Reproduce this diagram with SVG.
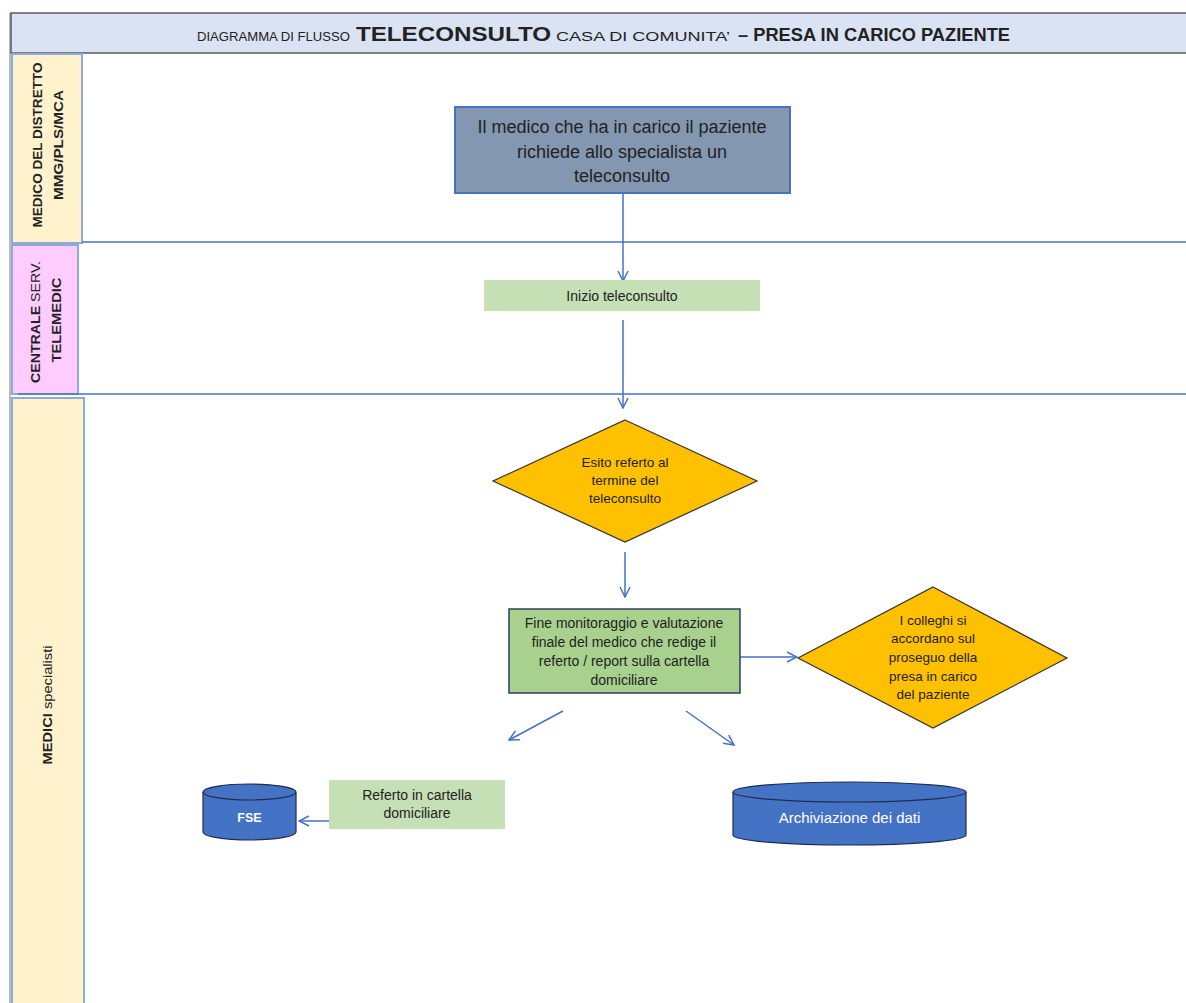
<svg xmlns="http://www.w3.org/2000/svg" width="1186" height="1003" viewBox="0 0 1186 1003">
<style>
.t{font-family:"Liberation Sans",Arial,sans-serif;fill:#222}
.lane{stroke:#8eaadb;stroke-width:2}
.sep{stroke:#4472c4;stroke-width:1.5}
.con{stroke:#4472c4;stroke-width:1.5;fill:none;marker-end:url(#ah)}
.dia{fill:#ffc000;stroke:#333;stroke-width:1.2}
.cyl{fill:#4472c4;stroke:#1f2d4d;stroke-width:1.2}
.w{font-family:"Liberation Sans",Arial,sans-serif;fill:#fff}
</style>
<defs>
<marker id="ah" viewBox="0 0 12 12" refX="11" refY="6" markerWidth="12" markerHeight="12" markerUnits="userSpaceOnUse" orient="auto">
<path d="M1,1 L11,6 L1,11" fill="none" stroke="#4472c4" stroke-width="1.5"/>
</marker>
</defs>
<rect width="1186" height="1003" fill="#fff"/>
<line x1="10" y1="13" x2="10" y2="1003" stroke="#a6a6a6" stroke-width="1.5"/>
<g id="title">
<rect x="11" y="13" width="1180" height="40" fill="#dae3f3" stroke="#595959" stroke-width="1.5"/>
<text class="t" x="197" y="41" font-size="13.5" textLength="153" lengthAdjust="spacingAndGlyphs">DIAGRAMMA DI FLUSSO</text>
<text class="t" x="356" y="41" font-size="20" font-weight="bold" textLength="195" lengthAdjust="spacingAndGlyphs">TELECONSULTO</text>
<text class="t" x="556" y="41" font-size="13.5" textLength="174" lengthAdjust="spacingAndGlyphs">CASA DI COMUNITA’</text>
<text class="t" x="738" y="41" font-size="19" font-weight="bold" textLength="272" lengthAdjust="spacingAndGlyphs">– PRESA IN CARICO PAZIENTE</text>
</g>
<g id="lane1">
<rect x="12" y="54" width="70" height="189" fill="#fff2cc" class="lane"/>
<text class="t" font-size="13" font-weight="bold" text-anchor="middle" textLength="165" lengthAdjust="spacingAndGlyphs" transform="translate(42,145) rotate(-90)">MEDICO DEL DISTRETTO</text>
<text class="t" font-size="13" font-weight="bold" text-anchor="middle" textLength="110" lengthAdjust="spacingAndGlyphs" transform="translate(63,145) rotate(-90)">MMG/PLS/MCA</text>
<line x1="82" y1="242" x2="1186" y2="242" class="sep"/>
</g>
<g id="lane2">
<rect x="12" y="245" width="66" height="149" fill="#ffccff" class="lane"/>
<text class="t" font-size="13" font-weight="bold" text-anchor="middle" textLength="122" lengthAdjust="spacingAndGlyphs" transform="translate(40,322) rotate(-90)">CENTRALE <tspan font-weight="normal">SERV.</tspan></text>
<text class="t" font-size="13" font-weight="bold" text-anchor="middle" textLength="85" lengthAdjust="spacingAndGlyphs" transform="translate(61,320) rotate(-90)">TELEMEDIC</text>
<line x1="18" y1="394" x2="1186" y2="394" class="sep"/>
</g>
<g id="lane3">
<rect x="12" y="398" width="72" height="610" fill="#fff2cc" class="lane"/>
<text class="t" font-size="13" text-anchor="middle" textLength="119" lengthAdjust="spacingAndGlyphs" transform="translate(52,705) rotate(-90)"><tspan font-weight="bold">MEDICI</tspan> specialisti</text>
</g>
<g id="connectors">
<line x1="623" y1="193" x2="623" y2="281" class="con"/>
<line x1="623" y1="320" x2="623" y2="408" class="con"/>
<line x1="625" y1="552" x2="625" y2="597" class="con"/>
<line x1="740" y1="657" x2="797" y2="657" class="con"/>
<line x1="563" y1="711" x2="509" y2="740" class="con"/>
<line x1="686" y1="711" x2="734" y2="745" class="con"/>
<line x1="329" y1="821" x2="299" y2="821" class="con"/>
</g>
<g id="n1">
<rect x="455" y="107" width="335" height="86" fill="#8497b0" stroke="#4472c4" stroke-width="2"/>
<text class="t" font-size="18" text-anchor="middle"><tspan x="622" y="133">Il medico che ha in carico il paziente</tspan><tspan x="622" y="158">richiede allo specialista un</tspan><tspan x="622" y="182">teleconsulto</tspan></text>
</g>
<g id="n2">
<rect x="484" y="280" width="276" height="31" fill="#c5e0b4"/>
<text class="t" x="622" y="301" font-size="14" text-anchor="middle">Inizio teleconsulto</text>
</g>
<g id="n3">
<polygon points="625,420 757,481 625,542 493,481" class="dia"/>
<text class="t" font-size="13.5" text-anchor="middle"><tspan x="625" y="467">Esito referto al</tspan><tspan x="625" y="485">termine del</tspan><tspan x="625" y="503">teleconsulto</tspan></text>
</g>
<g id="n4">
<rect x="509" y="609" width="231" height="84" fill="#a9d18e" stroke="#2f3f5f" stroke-width="1.5"/>
<text class="t" font-size="14" text-anchor="middle"><tspan x="624" y="628">Fine monitoraggio e valutazione</tspan><tspan x="624" y="647">finale del medico che redige il</tspan><tspan x="624" y="666">referto / report sulla cartella</tspan><tspan x="624" y="685">domiciliare</tspan></text>
</g>
<g id="n5">
<polygon points="933,587 1067,658 933,728 798,658" class="dia"/>
<text class="t" font-size="13.5" text-anchor="middle"><tspan x="933" y="625">I colleghi si</tspan><tspan x="933" y="643">accordano sul</tspan><tspan x="933" y="662">proseguo della</tspan><tspan x="933" y="681">presa in carico</tspan><tspan x="933" y="699">del paziente</tspan></text>
</g>
<g id="n6">
<path d="M203,792 L203,832 A46.5,8 0 0 0 296,832 L296,792" class="cyl"/>
<ellipse cx="249.5" cy="792" rx="46.5" ry="8" class="cyl"/>
<text class="w" x="249.5" y="822" font-size="12.5" font-weight="bold" text-anchor="middle">FSE</text>
</g>
<g id="n7">
<rect x="329" y="780" width="176" height="49" fill="#c5e0b4"/>
<text class="t" font-size="14" text-anchor="middle"><tspan x="417" y="800">Referto in cartella</tspan><tspan x="417" y="818">domiciliare</tspan></text>
</g>
<g id="n8">
<path d="M733,792 L733,835 A116.5,10 0 0 0 966,835 L966,792" class="cyl"/>
<ellipse cx="849.5" cy="792" rx="116.5" ry="10" class="cyl"/>
<text class="w" x="849.5" y="823" font-size="15" text-anchor="middle">Archiviazione dei dati</text>
</g>
</svg>
